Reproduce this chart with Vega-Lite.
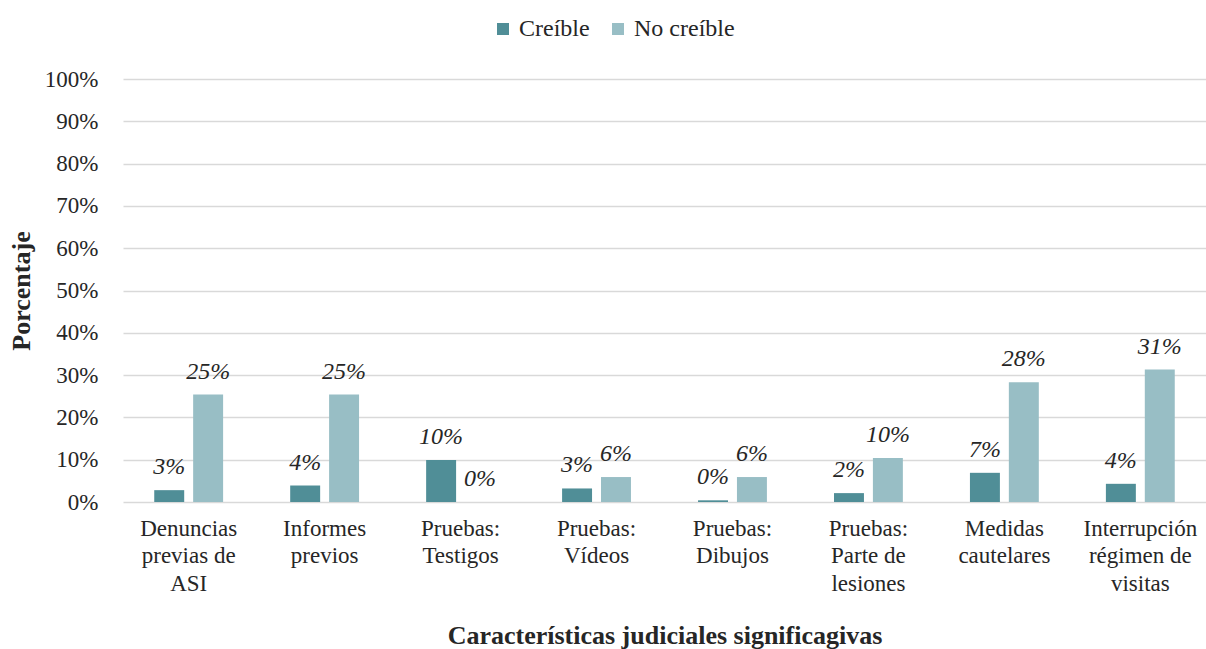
{
  "$schema": "https://vega.github.io/schema/vega-lite/v6.json",
  "width": 1083,
  "height": 423,
  "autosize": {"type": "none"},
  "padding": {"left": 123, "top": 79, "right": 0, "bottom": 147},
  "background": "white",
  "config": {
    "view": {"stroke": null},
    "font": "Liberation Serif",
    "axis": {"labelFont": "Liberation Serif", "titleFont": "Liberation Serif", "labelColor": "#262626", "titleColor": "#262626"},
    "legend": {"labelFont": "Liberation Serif"}
  },
  "data": {
    "values": [
      {"categoria": "Denuncias\nprevias de\nASI", "serie": "Creíble", "valor": 0.028},
      {"categoria": "Denuncias\nprevias de\nASI", "serie": "No creíble", "valor": 0.254},
      {"categoria": "Informes\nprevios", "serie": "Creíble", "valor": 0.039},
      {"categoria": "Informes\nprevios", "serie": "No creíble", "valor": 0.254},
      {"categoria": "Pruebas:\nTestigos", "serie": "Creíble", "valor": 0.099},
      {"categoria": "Pruebas:\nTestigos", "serie": "No creíble", "valor": 0.0},
      {"categoria": "Pruebas:\nVídeos", "serie": "Creíble", "valor": 0.032},
      {"categoria": "Pruebas:\nVídeos", "serie": "No creíble", "valor": 0.059},
      {"categoria": "Pruebas:\nDibujos", "serie": "Creíble", "valor": 0.004},
      {"categoria": "Pruebas:\nDibujos", "serie": "No creíble", "valor": 0.059},
      {"categoria": "Pruebas:\nParte de\nlesiones", "serie": "Creíble", "valor": 0.021},
      {"categoria": "Pruebas:\nParte de\nlesiones", "serie": "No creíble", "valor": 0.104},
      {"categoria": "Medidas\ncautelares", "serie": "Creíble", "valor": 0.069},
      {"categoria": "Medidas\ncautelares", "serie": "No creíble", "valor": 0.283},
      {"categoria": "Interrupción\nrégimen de\nvisitas", "serie": "Creíble", "valor": 0.043},
      {"categoria": "Interrupción\nrégimen de\nvisitas", "serie": "No creíble", "valor": 0.313}
    ]
  },
  "encoding": {
    "x": {
      "field": "categoria", "type": "nominal", "sort": null,
      "scale": {"paddingInner": 0.4934, "paddingOuter": 0.2298},
      "axis": {
        "title": "Características judiciales significagivas",
        "titleFontSize": 26, "titleFontWeight": "bold", "titlePadding": 27,
        "labelAngle": 0, "labelFontSize": 23, "labelLineHeight": 27.5,
        "labelExpr": "split(datum.label, '\\n')",
        "labelPadding": 15, "ticks": false, "domain": false, "labelLimit": 250
      }
    },
    "xOffset": {"field": "serie", "type": "nominal", "scale": {"paddingInner": 0.23}},
    "y": {
      "field": "valor", "type": "quantitative",
      "scale": {"domain": [0, 1]},
      "axis": {
        "title": "Porcentaje", "titleFontSize": 26, "titleFontWeight": "bold", "titlePadding": 10,
        "format": ".0%", "values": [0, 0.1, 0.2, 0.3, 0.4, 0.5, 0.6, 0.7, 0.8, 0.9, 1],
        "labelOverlap": false,
        "labelFontSize": 23, "labelPadding": 25, "ticks": false, "domain": false,
        "gridColor": "#d9d9d9", "gridWidth": 1.5
      }
    }
  },
  "layer": [
    {
      "mark": {"type": "bar"},
      "encoding": {
        "color": {
          "field": "serie", "type": "nominal",
          "scale": {"domain": ["Creíble", "No creíble"], "range": ["#508E97", "#98BEC5"]},
          "legend": {
            "title": null, "orient": "none", "direction": "horizontal",
            "legendX": 368, "legendY": -62,
            "symbolType": "square", "symbolSize": 144, "symbolStrokeWidth": 0,
            "labelFontSize": 24, "labelColor": "#262626", "labelOffset": 4, "columnPadding": 16
          }
        }
      }
    },
    {
      "mark": {"type": "text", "fontStyle": "italic", "fontSize": 24, "dy": -16, "baseline": "alphabetic", "color": "#262626", "font": "Liberation Serif"},
      "encoding": {
        "text": {"field": "valor", "type": "quantitative", "format": ".0%"}
      }
    }
  ]
}
